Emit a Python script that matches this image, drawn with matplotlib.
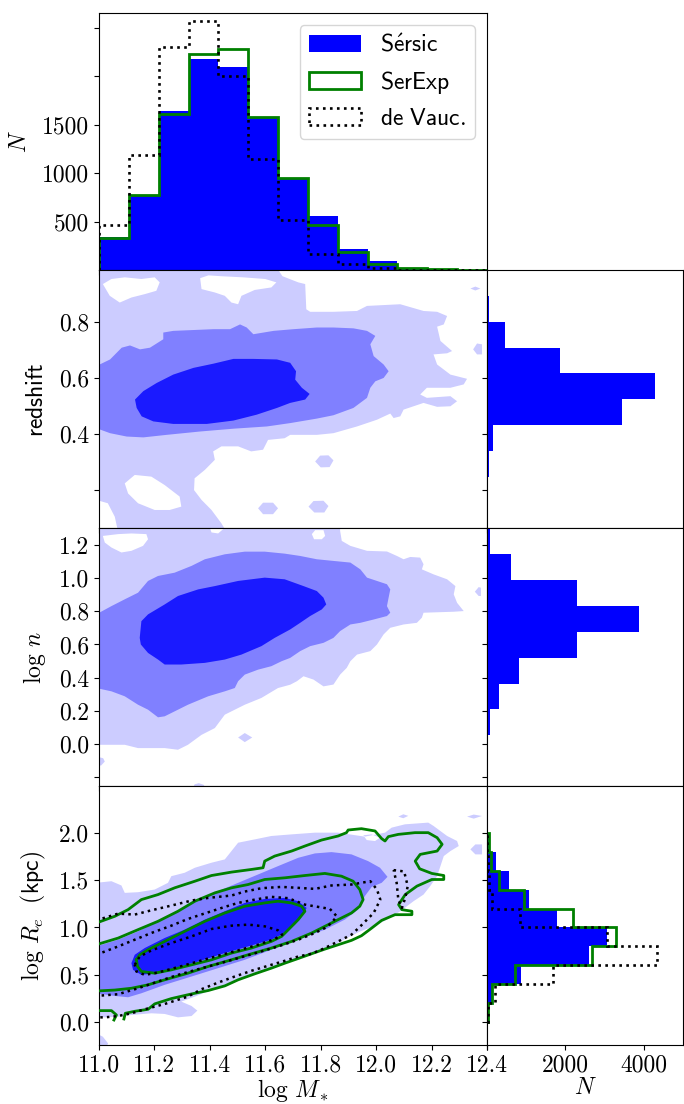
import numpy as np
import matplotlib
matplotlib.use('Agg')
import matplotlib.pyplot as plt
from matplotlib.path import Path
from matplotlib.patches import PathPatch

plt.rcParams.update({
    'font.family': 'serif', 'font.serif': ['cmr10'], 'mathtext.fontset': 'cm',
    'axes.formatter.use_mathtext': True, 'axes.unicode_minus': False,
    'font.size': 17, 'axes.linewidth': 0.8,
})

# ---------------- histogram data ----------------
MASS_EDGES = np.linspace(11.0, 12.4, 14)
N_SERSIC_MASS = [340, 770, 1640, 2175, 2090, 1580, 950, 555, 220, 95, 25, 8, 3]
N_SEREXP_MASS = [330, 770, 1610, 2230, 2275, 1575, 950, 460, 190, 60, 22, 8, 3]
N_DEVAUC_MASS = [465, 1190, 2300, 2570, 2005, 1140, 515, 165, 60, 18, 5, 1, 0]

Z_EDGES = np.linspace(0.06, 0.985, 11)
N_SERSIC_Z = [0, 5, 50, 150, 3440, 4290, 1850, 460, 60, 5]

N_EDGES = np.linspace(-0.26, 1.30, 11)
N_SERSIC_N = [3, 25, 75, 310, 815, 2300, 3890, 2300, 615, 65]

RE_EDGES = np.linspace(0.0, 2.0, 11)
N_SERSIC_RE = [42, 126, 857, 2605, 3050, 1790, 1059, 555, 227, 67]
N_SEREXP_RE = [17, 126, 714, 2689, 3294, 2185, 950, 311, 109, 42]
N_DEVAUC_RE = [17, 210, 1680, 4328, 3050, 840, 126, 42, 17, 0]

MASS_TICKS = [11.0, 11.2, 11.4, 11.6, 11.8, 12.0, 12.2, 12.4]
MASS_TICKLABELS = ['11.0', '11.2', '11.4', '11.6', '11.8', '12.0', '12.2', '12.4']
NHIST_TICKS = [500, 1000, 1500, 2000, 2500]
NHIST_TICKLABELS = ['500', '1000', '1500', '', '']
Z_TICKS = [0.2, 0.4, 0.6, 0.8]
Z_TICKLABELS = ['', '0.4', '0.6', '0.8']
LOGN_TICKS = [-0.2, 0.0, 0.2, 0.4, 0.6, 0.8, 1.0, 1.2]
LOGN_TICKLABELS = ['', '0.0', '0.2', '0.4', '0.6', '0.8', '1.0', '1.2']
RE_TICKS = [0.0, 0.5, 1.0, 1.5, 2.0]
RE_TICKLABELS = ['0.0', '0.5', '1.0', '1.5', '2.0']
MARG_TICKS = [0, 2000, 4000]
MARG_TICKLABELS = ['', '2000', '4000']

# ---------------- density contour outlines (Sersic) ----------------
# redshift panel
RS_LIGHT = [(10.99,0.99),(11.643,0.99),(11.662,0.962),(11.719,0.940),(11.744,0.934),(11.748,0.844),
    (11.762,0.835),(11.846,0.835),(11.931,0.838),
    (11.967,0.856),(12.087,0.862),(12.171,0.838),(12.220,0.835),(12.256,0.820),(12.244,0.790),
    (12.220,0.782),(12.232,0.731),(12.274,0.695),(12.256,0.687),(12.207,0.683),(12.220,0.647),
    (12.268,0.611),(12.328,0.596),(12.316,0.576),(12.268,0.564),(12.183,0.564),(12.159,0.540),
    (12.183,0.528),(12.268,0.534),(12.292,0.516),(12.268,0.498),(12.220,0.496),(12.171,0.510),
    (12.099,0.486),(12.087,0.462),(12.063,0.456),(12.051,0.472),(12.003,0.450),(11.931,0.426),
    (11.846,0.402),(11.786,0.396),(11.690,0.396),(11.670,0.384),(11.610,0.378),(11.592,0.343),
    (11.549,0.337),(11.502,0.355),(11.442,0.355),(11.412,0.337),(11.418,0.307),(11.382,0.271),
    (11.345,0.241),(11.343,0.199),(11.370,0.164),(11.406,0.128),(11.442,0.080),(11.460,0.05),
    (11.069,0.05),(11.057,0.104),(11.032,0.152),(10.99,0.164)]
RS_LIGHT_HOLE1 = [(11.014,0.934),(11.045,0.952),(11.093,0.958),(11.153,0.952),(11.201,0.958),
    (11.219,0.940),(11.207,0.910),(11.165,0.898),(11.117,0.886),(11.075,0.868),(11.039,0.892)]
RS_LIGHT_HOLE2 = [(11.093,0.223),(11.129,0.253),(11.189,0.247),(11.237,0.217),(11.291,0.176),
    (11.297,0.140),(11.255,0.128),(11.201,0.128),(11.141,0.152),(11.105,0.187)]
RS_LIGHT_HOLE3 = [(11.365,0.955),(11.370,0.916),(11.418,0.904),(11.454,0.892),(11.478,0.868),
    (11.502,0.862),(11.514,0.892),(11.562,0.913),(11.622,0.922),(11.640,0.940),(11.600,0.952),
    (11.520,0.958),(11.440,0.962),(11.395,0.965)]
RS_BLOB1 = [(11.780,0.301),(11.798,0.322),(11.828,0.323),(11.846,0.305),(11.832,0.281),(11.800,0.280)]
RS_BLOB2 = [(11.756,0.140),(11.774,0.160),(11.810,0.161),(11.828,0.142),(11.813,0.119),(11.777,0.119)]
RS_BLOB3 = [(11.574,0.134),(11.592,0.154),(11.628,0.154),(11.646,0.134),(11.628,0.113),(11.592,0.113)]
RS_BLOB4 = [(12.340,0.918),(12.358,0.925),(12.376,0.918),(12.358,0.911)]
RS_BLOB5 = [(12.350,0.701),(12.364,0.722),(12.382,0.719),(12.382,0.683),(12.364,0.683)]
RS_MED = [(10.99,0.641),(11.040,0.665),(11.082,0.707),(11.112,0.715),(11.148,0.701),(11.184,0.707),
    (11.232,0.737),(11.232,0.761),(11.268,0.767),(11.341,0.770),(11.413,0.773),(11.473,0.773),
    (11.509,0.790),(11.533,0.779),(11.557,0.755),(11.630,0.767),(11.702,0.773),(11.786,0.779),
    (11.846,0.779),(11.918,0.776),(11.967,0.767),(11.997,0.749),(11.979,0.719),(11.991,0.677),
    (12.027,0.647),(12.045,0.623),(12.027,0.599),(11.997,0.587),(11.979,0.564),(11.967,0.528),
    (11.918,0.492),(11.846,0.466),(11.786,0.454),(11.690,0.438),(11.606,0.426),(11.485,0.418),
    (11.365,0.408),(11.244,0.396),(11.160,0.387),(11.100,0.390),(11.040,0.402),(10.99,0.420)]
RS_DARK = [(11.130,0.522),(11.160,0.552),(11.208,0.581),(11.268,0.611),(11.341,0.635),(11.413,0.650),
    (11.485,0.667),(11.557,0.667),(11.642,0.665),(11.690,0.653),(11.711,0.623),(11.708,0.593),
    (11.732,0.564),(11.760,0.542),(11.744,0.522),(11.690,0.510),(11.642,0.492),(11.569,0.468),
    (11.485,0.447),(11.389,0.435),(11.268,0.435),(11.196,0.444),(11.154,0.462),(11.136,0.492)]

# log n panel
LN_LIGHT = [(10.99,1.31),(11.870,1.31),(11.870,1.287),(11.876,1.226),(11.907,1.196),(11.967,1.166),
    (12.039,1.162),(12.075,1.135),(12.099,1.115),(12.123,1.129),(12.159,1.125),(12.171,1.085),
    (12.165,1.054),(12.207,1.024),(12.256,0.994),(12.286,0.953),(12.280,0.903),(12.292,0.852),
    (12.316,0.802),(12.280,0.798),(12.171,0.792),(12.165,0.762),(12.147,0.731),(12.099,0.721),
    (12.051,0.701),(12.027,0.661),(12.003,0.600),(11.979,0.560),(11.931,0.539),(11.907,0.499),
    (11.894,0.459),(11.870,0.418),(11.846,0.358),(11.810,0.347),(11.774,0.388),(11.738,0.408),
    (11.714,0.378),(11.690,0.357),(11.646,0.337),(11.586,0.277),(11.526,0.236),(11.454,0.176),
    (11.418,0.095),(11.370,0.054),(11.321,-0.006),(11.285,-0.036),(11.237,-0.026),(11.189,-0.026),
    (11.141,-0.026),(11.093,-0.006),(11.045,-0.006),(10.99,-0.006)]
LN_LIGHT_HOLE1 = [(11.014,1.256),(11.069,1.267),(11.117,1.271),(11.171,1.267),(11.177,1.236),
    (11.159,1.196),(11.117,1.166),(11.081,1.156),(11.045,1.186),(11.021,1.216)]
LN_LIGHT_HOLE2 = [(11.768,1.267),(11.780,1.291),(11.810,1.291),(11.816,1.256),(11.804,1.236),(11.776,1.236)]
LN_LIGHT_HOLE3 = [(11.400,1.305),(11.406,1.277),(11.430,1.271),(11.448,1.297),(11.452,1.305)]
LN_BLOB1 = [(11.502,0.038),(11.526,0.065),(11.553,0.038),(11.526,0.010)]
LN_BLOB2 = [(12.356,0.919),(12.370,0.947),(12.378,0.943),(12.378,0.893),(12.370,0.893)]
LN_BLOB3 = [(10.99,-0.077),(11.015,-0.087),(11.021,-0.107),(11.008,-0.131),(10.99,-0.131)]
LN_BLOB4 = [(11.338,-0.27),(11.345,-0.245),(11.360,-0.238),(11.378,-0.248),(11.385,-0.27)]
LN_MED = [(10.99,0.782),(11.045,0.832),(11.093,0.873),(11.141,0.913),(11.177,0.984),(11.213,1.014),
    (11.273,1.034),(11.334,1.075),(11.382,1.115),(11.454,1.145),(11.526,1.161),(11.598,1.161),
    (11.670,1.149),(11.726,1.135),(11.786,1.115),(11.846,1.105),(11.907,1.095),(11.943,1.054),
    (11.967,1.004),(12.003,0.984),(12.039,0.964),(12.051,0.933),(12.045,0.883),(12.039,0.832),
    (12.051,0.792),(12.039,0.772),(11.991,0.751),(11.943,0.731),(11.907,0.721),(11.870,0.681),
    (11.846,0.640),(11.810,0.610),(11.762,0.590),(11.726,0.560),(11.690,0.519),(11.659,0.499),
    (11.622,0.469),(11.574,0.448),(11.526,0.418),(11.502,0.378),(11.490,0.337),(11.454,0.317),
    (11.394,0.287),(11.321,0.236),(11.285,0.206),(11.237,0.166),(11.213,0.160),(11.177,0.206),
    (11.141,0.236),(11.093,0.287),(11.045,0.317),(10.99,0.337)]
LN_DARK = [(11.147,0.640),(11.153,0.741),(11.177,0.782),(11.237,0.842),(11.285,0.893),(11.358,0.933),
    (11.418,0.953),(11.502,0.984),(11.598,1.004),(11.670,0.994),(11.738,0.953),(11.786,0.923),
    (11.810,0.883),(11.820,0.842),(11.804,0.812),(11.762,0.772),(11.726,0.731),(11.690,0.691),
    (11.634,0.640),(11.586,0.590),(11.514,0.539),(11.454,0.509),(11.382,0.489),(11.297,0.479),
    (11.237,0.479),(11.213,0.509),(11.177,0.549),(11.151,0.600)]

# log Re panel
RE_LIGHT = [(10.99,1.471),(11.045,1.488),(11.081,1.443),(11.093,1.365),(11.141,1.372),(11.201,1.400),
    (11.249,1.471),(11.261,1.541),(11.309,1.577),(11.346,1.630),(11.406,1.683),(11.454,1.718),
    (11.478,1.806),(11.502,1.894),(11.562,1.929),(11.622,1.965),(11.695,1.982),(11.779,2.000),
    (11.863,2.000),(11.959,1.958),(12.032,2.000),(12.056,2.053),(12.104,2.088),(12.188,2.106),
    (12.207,2.071),(12.256,1.965),(12.292,1.912),(12.298,1.859),(12.268,1.806),(12.244,1.753),
    (12.232,1.647),(12.220,1.541),(12.195,1.436),(12.171,1.347),(12.135,1.277),(12.087,1.171),
    (12.039,1.083),(11.991,1.012),(11.943,0.959),(11.906,0.906),(11.839,0.800),(11.767,0.723),
    (11.695,0.642),(11.622,0.571),(11.550,0.500),(11.478,0.419),(11.406,0.342),(11.346,0.271),
    (11.297,0.218),(11.334,0.172),(11.355,0.123),(11.334,0.066),(11.285,0.052),(11.237,0.088),
    (11.189,0.095),(11.117,0.077),(11.069,0.059),(11.021,0.052),(10.99,0.059)]
RE_LIGHT_HOLE1 = [(11.954,1.972),(11.983,1.982),(12.014,1.947),(11.996,1.912),(11.966,1.922)]
RE_BLOB1 = [(12.080,2.169),(12.098,2.194),(12.116,2.177),(12.098,2.152)]
RE_BLOB2 = [(12.328,2.169),(12.352,2.191),(12.382,2.176),(12.352,2.148)]
RE_BLOB3 = [(12.340,1.824),(12.358,1.876),(12.382,1.876),(12.382,1.771),(12.358,1.771)]
RE_BLOB4 = [(10.99,-0.117),(11.014,-0.152),(11.033,-0.223),(11.027,-0.258),(10.99,-0.258)]
RE_MED = [(10.99,0.800),(11.069,0.871),(11.141,0.959),(11.213,1.065),(11.285,1.171),(11.358,1.294),
    (11.430,1.383),(11.502,1.471),(11.574,1.559),(11.646,1.647),(11.719,1.735),(11.779,1.781),
    (11.839,1.795),(11.911,1.771),(11.971,1.700),(12.014,1.630),(12.041,1.534),(12.020,1.471),
    (11.984,1.428),(11.959,1.330),(11.935,1.188),(11.887,1.083),(11.815,0.977),(11.719,0.871),
    (11.622,0.765),(11.526,0.659),(11.430,0.571),(11.334,0.483),(11.237,0.395),(11.153,0.306),
    (11.105,0.264),(11.057,0.278),(10.99,0.306)]
RE_DARK = [(11.117,0.624),(11.129,0.712),(11.165,0.783),(11.237,0.889),(11.309,0.977),(11.382,1.083),
    (11.454,1.171),(11.526,1.259),(11.598,1.301),(11.671,1.312),(11.719,1.277),(11.749,1.206),
    (11.737,1.136),(11.707,1.030),(11.671,0.941),(11.622,0.871),(11.538,0.800),(11.454,0.730),
    (11.358,0.641),(11.273,0.571),(11.201,0.518),(11.153,0.500),(11.123,0.553)]

# SerExp contour lines (log Re panel)
SEREXP_INNER = [(11.135,0.659),(11.147,0.712),(11.177,0.765),(11.237,0.853),(11.309,0.959),
    (11.382,1.065),(11.454,1.153),(11.526,1.224),(11.598,1.259),(11.646,1.277),(11.695,1.259),
    (11.731,1.224),(11.743,1.171),(11.719,1.083),(11.689,0.994),(11.659,0.906),(11.622,0.853),
    (11.550,0.783),(11.478,0.730),(11.406,0.659),(11.334,0.606),(11.261,0.553),(11.201,0.518),
    (11.153,0.536),(11.139,0.589),(11.135,0.659)]
SEREXP_MID = [(10.99,0.818),(11.069,0.888),(11.141,0.977),(11.213,1.065),(11.285,1.171),(11.346,1.277),
    (11.418,1.365),(11.478,1.418),(11.538,1.453),(11.598,1.506),(11.671,1.524),(11.743,1.548),
    (11.815,1.570),(11.875,1.541),(11.917,1.488),(11.941,1.400),(11.953,1.294),(11.941,1.224),
    (11.911,1.153),(11.863,1.083),(11.815,1.012),(11.767,0.941),(11.695,0.853),(11.622,0.783),
    (11.538,0.712),(11.478,0.659),(11.394,0.589),(11.321,0.518),(11.237,0.448),(11.177,0.395),
    (11.117,0.359),(11.057,0.340),(10.99,0.330)]
SEREXP_OUTER = [(10.99,1.047),(11.057,1.118),(11.105,1.188),(11.153,1.294),(11.213,1.347),(11.273,1.418),
    (11.346,1.488),(11.406,1.548),(11.478,1.584),(11.550,1.612),(11.592,1.630),(11.598,1.700),
    (11.634,1.753),(11.695,1.806),(11.743,1.859),(11.803,1.922),(11.863,1.965),(11.893,2.000),
    (11.899,2.028),(11.947,2.042),(11.996,2.018),(12.020,1.937),(12.032,1.912),(12.044,1.958),
    (12.080,1.982),(12.140,2.000),(12.188,2.000),(12.220,1.947),(12.238,1.877),(12.220,1.806),
    (12.159,1.771),(12.141,1.700),(12.157,1.619),(12.201,1.570),(12.244,1.548),(12.244,1.506),
    (12.201,1.506),(12.147,1.436),(12.105,1.347),(12.081,1.241),(12.093,1.188),(12.129,1.171),
    (12.129,1.135),(12.099,1.135),(12.068,1.135),(12.020,1.075),(11.984,0.994),(11.947,0.913),
    (11.911,0.864),(11.863,0.818),(11.815,0.772),(11.767,0.723),(11.719,0.673),(11.671,0.624),
    (11.622,0.571),(11.562,0.511),(11.502,0.448),(11.454,0.384),(11.394,0.335),(11.334,0.299),
    (11.261,0.250),(11.201,0.194),(11.177,0.137),(11.129,0.116),(11.095,0.095),(11.090,0.035)]
SEREXP_OUTER_B = [(10.99,0.123),(11.045,0.123),(11.063,0.077),(11.054,0.024)]

# de Vauc. contour lines (log Re panel)
DEVAUC_INNER = [(11.129,0.606),(11.147,0.694),(11.189,0.758),(11.261,0.836),(11.334,0.906),
    (11.406,0.984),(11.478,1.019),(11.538,1.030),(11.598,1.012),(11.646,0.970),(11.661,0.924),
    (11.634,0.878),(11.574,0.818),(11.502,0.758),(11.430,0.702),(11.358,0.642),(11.285,0.582),
    (11.213,0.525),(11.165,0.500),(11.135,0.536),(11.129,0.606)]
DEVAUC_MID = [(10.99,0.712),(11.069,0.800),(11.129,0.871),(11.189,0.942),(11.261,1.019),(11.321,1.090),
    (11.394,1.160),(11.454,1.217),(11.502,1.259),(11.562,1.294),(11.622,1.323),(11.683,1.309),
    (11.743,1.241),(11.791,1.217),(11.833,1.196),(11.858,1.118),(11.839,1.047),(11.815,0.994),
    (11.779,0.942),(11.719,0.871),(11.646,0.800),(11.574,0.737),(11.502,0.677),(11.430,0.617),
    (11.358,0.560),(11.285,0.500),(11.213,0.430),(11.141,0.359),(11.069,0.296),(10.99,0.278)]
DEVAUC_OUTER = [(10.99,1.075),(11.069,1.146),(11.129,1.136),(11.189,1.181),(11.261,1.231),(11.334,1.284),
    (11.394,1.312),(11.478,1.337),(11.526,1.379),(11.586,1.414),(11.658,1.428),(11.719,1.418),
    (11.779,1.407),(11.839,1.443),(11.911,1.453),(11.979,1.488),(12.003,1.400),(12.015,1.294),
    (11.991,1.153),(11.967,1.083),(11.943,1.012),(11.911,0.924),(11.863,0.853),(11.815,0.783),
    (11.767,0.723),(11.719,0.694),(11.671,0.649),(11.610,0.596),(11.550,0.543),(11.490,0.483),
    (11.430,0.419),(11.370,0.349),(11.321,0.271),(11.237,0.193),(11.165,0.137),(11.117,0.095),
    (11.069,0.066),(11.021,0.052),(10.99,0.052)]
DEVAUC_ISLAND = [(12.063,1.605),(12.101,1.591),(12.114,1.436),(12.105,1.312),(12.093,1.206),
    (12.080,1.294),(12.074,1.471),(12.063,1.605)]

LIGHT, MED, DARK = '#ccccff', '#8080ff', '#1a1aff'
GREEN = '#008000'


def region_path(outer, holes=()):
    verts, codes = [], []

    def add(poly, ccw):
        p = np.asarray(poly, dtype=float)
        area = 0.5 * np.sum(p[:, 0] * np.roll(p[:, 1], -1) - np.roll(p[:, 0], -1) * p[:, 1])
        if (area > 0) != ccw:
            p = p[::-1]
        verts.extend(p.tolist())
        verts.append(p[0].tolist())
        codes.extend([Path.MOVETO] + [Path.LINETO] * (len(p) - 1) + [Path.CLOSEPOLY])

    add(outer, True)
    for h in holes:
        add(h, False)
    return Path(verts, codes)


def fill(ax, outer, color, holes=(), z=1):
    ax.add_patch(PathPatch(region_path(outer, holes), facecolor=color,
                           edgecolor='none', zorder=z))


def line(ax, pts, **kw):
    p = np.asarray(pts)
    ax.plot(p[:, 0], p[:, 1], solid_joinstyle='round', **kw)


fig = plt.figure(figsize=(6.84, 11.04), dpi=100)
L, W = 0.1447, 0.5673
R, RW = 0.712, 0.2865
tops = [0.9882, 0.7554, 0.5213, 0.2876]
bots = [0.7554, 0.5213, 0.2876, 0.0534]
axm = [fig.add_axes([L, b, W, t - b]) for t, b in zip(tops, bots)]
axr = [None] + [fig.add_axes([R, b, RW, t - b]) for t, b in zip(tops[1:], bots[1:])]

# ---- top histogram ----
ax = axm[0]
cen = 0.5 * (MASS_EDGES[1:] + MASS_EDGES[:-1])
ax.hist(cen, bins=MASS_EDGES, weights=N_SERSIC_MASS, histtype='stepfilled', color='blue',
        label=r'$\mathsf{S\acute{e}rsic}$')
ax.hist(cen, bins=MASS_EDGES, weights=N_SEREXP_MASS, histtype='step', color=GREEN, lw=2,
        label=r'$\mathsf{SerExp}$')
ax.hist(cen, bins=MASS_EDGES, weights=N_DEVAUC_MASS, histtype='step', color='black', lw=1.9,
        ls=':', label=r'$\mathsf{de\ Vauc.}$')
ax.set_ylim(0, 2650)
ax.set_yticks(NHIST_TICKS)
ax.set_yticklabels(NHIST_TICKLABELS)
ax.set_ylabel(r'$N$', labelpad=8)
ax.legend(loc='upper right', fontsize=17, handlelength=2.2)

# ---- redshift panel ----
ax = axm[1]
fill(ax, RS_LIGHT, LIGHT, holes=[RS_LIGHT_HOLE1, RS_LIGHT_HOLE2, RS_LIGHT_HOLE3])
for b in [RS_BLOB1, RS_BLOB2, RS_BLOB3, RS_BLOB4, RS_BLOB5]:
    fill(ax, b, LIGHT)
fill(ax, RS_MED, MED, z=2)
fill(ax, RS_DARK, DARK, z=3)
ax.set_ylim(0.062, 0.984)
ax.set_yticks(Z_TICKS)
ax.set_yticklabels(Z_TICKLABELS)
ax.set_ylabel(r'$\mathsf{redshift}$', labelpad=8)

# ---- log n panel ----
ax = axm[2]
fill(ax, LN_LIGHT, LIGHT, holes=[LN_LIGHT_HOLE1, LN_LIGHT_HOLE2, LN_LIGHT_HOLE3])
for b in [LN_BLOB1, LN_BLOB2, LN_BLOB3, LN_BLOB4]:
    fill(ax, b, LIGHT)
fill(ax, LN_MED, MED, z=2)
fill(ax, LN_DARK, DARK, z=3)
ax.set_ylim(-0.258, 1.301)
ax.set_yticks(LOGN_TICKS)
ax.set_yticklabels(LOGN_TICKLABELS)
ax.set_ylabel(r'$\log\,n$', labelpad=8)

# ---- log Re panel ----
ax = axm[3]
fill(ax, RE_LIGHT, LIGHT, holes=[RE_LIGHT_HOLE1])
for b in [RE_BLOB1, RE_BLOB2, RE_BLOB3, RE_BLOB4]:
    fill(ax, b, LIGHT)
fill(ax, RE_MED, MED, z=2)
fill(ax, RE_DARK, DARK, z=3)
for pts in [SEREXP_INNER, SEREXP_MID, SEREXP_OUTER, SEREXP_OUTER_B]:
    line(ax, pts, color=GREEN, lw=2, zorder=4)
for pts in [DEVAUC_INNER, DEVAUC_MID, DEVAUC_OUTER, DEVAUC_ISLAND]:
    line(ax, pts, color='black', lw=1.8, ls=':', zorder=5)
ax.set_ylim(-0.24, 2.487)
ax.set_yticks(RE_TICKS)
ax.set_yticklabels(RE_TICKLABELS)
ax.set_ylabel(r'$\log\,R_e\ \ \mathsf{(kpc)}$', labelpad=8)
ax.set_xlabel(r'$\log\,M_*$', labelpad=0)

for i, ax in enumerate(axm):
    ax.set_xlim(11.0, 12.4)
    ax.set_xticks(MASS_TICKS)
    ax.set_xticklabels(MASS_TICKLABELS if i == 3 else [''] * len(MASS_TICKS))

# ---- marginal histograms ----
marg = [
    (axr[1], Z_EDGES, [N_SERSIC_Z], (0.062, 0.984), Z_TICKS),
    (axr[2], N_EDGES, [N_SERSIC_N], (-0.258, 1.301), LOGN_TICKS),
    (axr[3], RE_EDGES, [N_SERSIC_RE, N_SEREXP_RE, N_DEVAUC_RE], (-0.24, 2.487), RE_TICKS),
]
for ax, edges, series, ylim, yt in marg:
    c = 0.5 * (edges[1:] + edges[:-1])
    ax.hist(c, bins=edges, weights=series[0], orientation='horizontal',
            histtype='stepfilled', color='blue')
    if len(series) > 1:
        ax.hist(c, bins=edges, weights=series[1], orientation='horizontal',
                histtype='step', color=GREEN, lw=2)
        ax.hist(c, bins=edges, weights=series[2], orientation='horizontal',
                histtype='step', color='black', lw=1.9, ls=':')
    ax.set_ylim(*ylim)
    ax.set_yticks(yt)
    ax.set_yticklabels([''] * len(yt))
    ax.set_xlim(0, 5000)
    ax.set_xticks(MARG_TICKS)
    if ax is axr[3]:
        ax.set_xticklabels(MARG_TICKLABELS)
        ax.set_xlabel(r'$N$', labelpad=0)
    else:
        ax.set_xticklabels([''] * len(MARG_TICKS))

fig.savefig('out.png', dpi=100)
